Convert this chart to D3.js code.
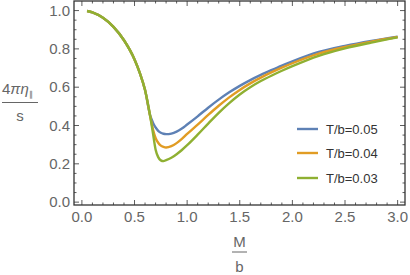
<!DOCTYPE html>
<html><head><meta charset="utf-8">
<script src="https://cdn.jsdelivr.net/npm/d3@7"></script>
<style>body{margin:0;background:#fff}svg{display:block}text{font-family:"Liberation Sans",Arial,sans-serif}</style>
</head><body>
<svg id="c" width="410" height="275"></svg>
<script>
const xVals = [0.05,0.1,0.2,0.3,0.4,0.5,0.55,0.6,0.65,0.675,0.7,0.725,0.75,0.775,0.8,0.85,0.9,0.95,1.0,1.1,1.2,1.3,1.4,1.5,1.6,1.7,1.8,1.9,2.0,2.25,2.5,2.75,3.0];
const blue   = [0.998,0.99,0.962,0.915,0.845,0.745,0.675,0.585,0.45,0.415,0.39,0.372,0.362,0.357,0.355,0.358,0.368,0.384,0.405,0.448,0.493,0.535,0.573,0.607,0.637,0.664,0.689,0.713,0.735,0.784,0.816,0.842,0.864];
const orange = [0.998,0.99,0.962,0.915,0.845,0.745,0.675,0.585,0.445,0.38,0.335,0.31,0.295,0.288,0.285,0.292,0.308,0.33,0.356,0.405,0.455,0.503,0.547,0.586,0.62,0.65,0.677,0.702,0.725,0.775,0.81,0.838,0.862];
const green  = [0.998,0.99,0.962,0.915,0.845,0.745,0.675,0.585,0.445,0.36,0.275,0.235,0.218,0.214,0.219,0.232,0.25,0.272,0.297,0.352,0.41,0.466,0.517,0.562,0.6,0.632,0.66,0.686,0.71,0.764,0.803,0.833,0.86];
const seriesNames = ["T/b=0.05","T/b=0.04","T/b=0.03"];
const colors = ["#5E81B5","#E19C24","#8FB032"];
const xTicks = [0,0.5,1.0,1.5,2.0,2.5,3.0];
const yTicks = [0,0.2,0.4,0.6,0.8,1.0];

const svg = d3.select("#c");
const L=74,R=405,T=1,B=205;
const x = d3.scaleLinear().domain([-0.075,3.07]).range([L,R]);
const y = d3.scaleLinear().domain([-0.015,1.05]).range([B,T]);

const frameCol="#333", labCol="#666";
const xMinor = d3.range(0,3.05,0.1).map(v=>+v.toFixed(2));
const yMinor = d3.range(0,1.05,0.05).map(v=>+v.toFixed(3));
const g = svg.append("g");
const isMajX = v => Math.abs(v*2-Math.round(v*2))<1e-6;
const isMajY = v => Math.abs(v*5-Math.round(v*5))<1e-6;
xMinor.forEach(v=>{
  const len = isMajX(v)?5:2.5;
  g.append("line").attr("x1",x(v)).attr("x2",x(v)).attr("y1",B).attr("y2",B-len).attr("stroke",frameCol).attr("stroke-width",0.8);
  g.append("line").attr("x1",x(v)).attr("x2",x(v)).attr("y1",T).attr("y2",T+len).attr("stroke",frameCol).attr("stroke-width",0.8);
});
yMinor.forEach(v=>{
  const len = isMajY(v)?5:2.5;
  g.append("line").attr("y1",y(v)).attr("y2",y(v)).attr("x1",L).attr("x2",L+len).attr("stroke",frameCol).attr("stroke-width",0.8);
  g.append("line").attr("y1",y(v)).attr("y2",y(v)).attr("x1",R).attr("x2",R-len).attr("stroke",frameCol).attr("stroke-width",0.8);
});
g.append("rect").attr("x",L).attr("y",T).attr("width",R-L).attr("height",B-T).attr("fill","none").attr("stroke",frameCol).attr("stroke-width",1.3);

xTicks.forEach(v=>{
  svg.append("text").attr("x",x(v)).attr("y",222).attr("text-anchor","middle").attr("font-size",15).attr("fill",labCol).text(v.toFixed(1));
});
yTicks.forEach(v=>{
  svg.append("text").attr("x",70).attr("y",y(v)+5.3).attr("text-anchor","end").attr("font-size",15).attr("fill",labCol).text(v.toFixed(1));
});

const line = d3.line().x((d,i)=>x(xVals[i])).y(d=>y(d)).curve(d3.curveMonotoneX);
const data=[blue,orange,green];
svg.append("g").selectAll("path").data(data).join("path")
  .attr("d",line).attr("fill","none").attr("stroke",(d,i)=>colors[i]).attr("stroke-width",2.4).attr("stroke-linejoin","round");

const ly=[129,153,178];
seriesNames.forEach((n,i)=>{
  svg.append("line").attr("x1",297).attr("x2",318).attr("y1",ly[i]).attr("y2",ly[i]).attr("stroke",colors[i]).attr("stroke-width",2.4);
  svg.append("text").attr("x",326).attr("y",ly[i]+4.5).attr("font-size",13).attr("fill","#333").text(n);
});

const yl = svg.append("text").attr("x",2).attr("y",94).attr("font-size",15).attr("fill",labCol);
yl.append("tspan").text("4");
yl.append("tspan").attr("font-style","italic").text("πη");
yl.append("tspan").attr("font-size",8).attr("dy",3).text("\u2225");
svg.append("line").attr("x1",2).attr("x2",38).attr("y1",102.5).attr("y2",102.5).attr("stroke",labCol).attr("stroke-width",1);
svg.append("text").attr("x",20).attr("y",121).attr("text-anchor","middle").attr("font-size",15).attr("fill",labCol).text("s");

svg.append("text").attr("x",239.5).attr("y",246.5).attr("text-anchor","middle").attr("font-size",15).attr("fill",labCol).text("M");
svg.append("line").attr("x1",232).attr("x2",247).attr("y1",252).attr("y2",252).attr("stroke",labCol).attr("stroke-width",1);
svg.append("text").attr("x",239.5).attr("y",272).attr("text-anchor","middle").attr("font-size",15).attr("fill",labCol).text("b");
</script>
</body></html>
